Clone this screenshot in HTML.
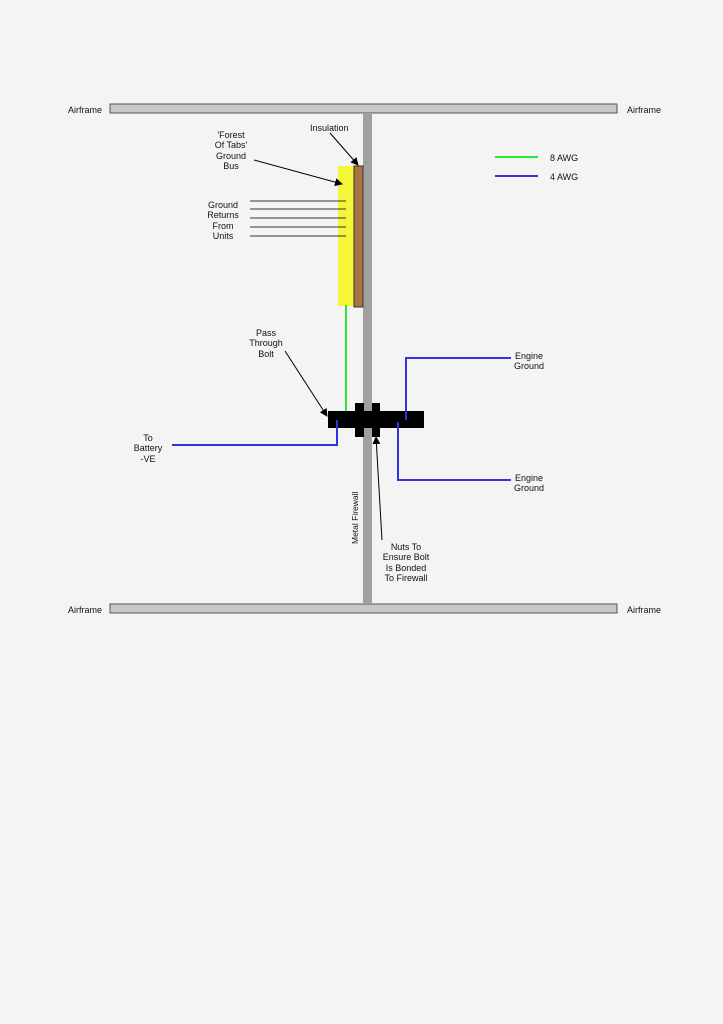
<!DOCTYPE html>
<html><head><style>
body{margin:0;background:#f4f4f4;}
svg{display:block;font-family:"Liberation Sans",sans-serif;font-size:9px;fill:#111;}
</style></head><body>
<svg width="723" height="1024" viewBox="0 0 723 1024">
<defs><marker id="a" markerWidth="8" markerHeight="8" refX="7" refY="4" orient="auto" markerUnits="userSpaceOnUse"><path d="M0,0L8,4L0,8z" fill="#000"/></marker></defs>
<rect width="723" height="1024" fill="#f4f4f4"/>
<rect x="110" y="104" width="507" height="9" fill="#c8c8c8" stroke="#555" stroke-width="1"/>
<rect x="110" y="604" width="507" height="9" fill="#c8c8c8" stroke="#555" stroke-width="1"/>
<rect x="363" y="113" width="9" height="491" fill="#a0a0a0"/>
<rect x="338" y="166" width="16" height="140" fill="#f5f53a"/>
<rect x="354" y="166" width="9" height="141" fill="#a8743f" stroke="#333" stroke-width="1"/>
<g stroke="#333" stroke-width="1">
<line x1="250" y1="201" x2="346" y2="201"/><line x1="250" y1="209" x2="346" y2="209"/><line x1="250" y1="218" x2="346" y2="218"/><line x1="250" y1="227" x2="346" y2="227"/><line x1="250" y1="236" x2="346" y2="236"/>
</g>
<line x1="346" y1="305" x2="346" y2="418" stroke="#2ee82e" stroke-width="2"/>
<g fill="#000">
<rect x="328" y="411" width="96" height="17"/>
<rect x="355" y="403" width="9" height="34"/>
<rect x="372" y="403" width="8" height="34"/>
</g>
<g fill="none" stroke="#3333dd" stroke-width="2">
<polyline points="172,445 337,445 337,420"/>
<polyline points="406,420 406,358 511,358"/>
<polyline points="398,422 398,480 511,480"/>
<line x1="495" y1="176" x2="538" y2="176"/>
</g>
<line x1="495" y1="157" x2="538" y2="157" stroke="#2ee82e" stroke-width="2"/>
<g stroke="#000" stroke-width="1" fill="none">
<line x1="254" y1="160" x2="342" y2="184" marker-end="url(#a)"/>
<line x1="330" y1="133" x2="358" y2="165" marker-end="url(#a)"/>
<line x1="285" y1="351" x2="327" y2="416" marker-end="url(#a)"/>
<line x1="382" y1="540" x2="376" y2="437" marker-end="url(#a)"/>
</g>
<text x="68" y="113">Airframe</text><text x="627" y="113">Airframe</text>
<text x="68" y="613">Airframe</text><text x="627" y="613">Airframe</text>
<text x="310" y="131">Insulation</text>
<g text-anchor="middle">
<text x="231" y="138">'Forest</text><text x="231" y="148">Of Tabs'</text><text x="231" y="159">Ground</text><text x="231" y="169">Bus</text>
<text x="223" y="208">Ground</text><text x="223" y="218">Returns</text><text x="223" y="229">From</text><text x="223" y="239">Units</text>
<text x="266" y="336">Pass</text><text x="266" y="346">Through</text><text x="266" y="357">Bolt</text>
<text x="148" y="441">To</text><text x="148" y="451">Battery</text><text x="148" y="462">-VE</text>
<text x="529" y="359">Engine</text><text x="529" y="369">Ground</text>
<text x="529" y="481">Engine</text><text x="529" y="491">Ground</text>
<text x="406" y="550">Nuts To</text><text x="406" y="560">Ensure Bolt</text><text x="406" y="571">Is Bonded</text><text x="406" y="581">To Firewall</text>
</g>
<text x="550" y="161">8 AWG</text><text x="550" y="180">4 AWG</text>
<text transform="translate(358,544) rotate(-90)" font-size="8.5">Metal Firewall</text>
</svg>
</body></html>
